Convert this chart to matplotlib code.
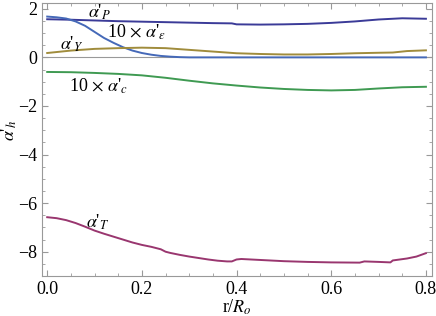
import numpy as np
import matplotlib.pyplot as plt
from matplotlib.ticker import MultipleLocator

plt.rcParams['font.family'] = ['Liberation Serif', 'DejaVu Serif']
plt.rcParams['mathtext.fontset'] = 'stix'

# alpha'_P
x_p = [0.0, 0.05, 0.1, 0.15, 0.2, 0.25, 0.3, 0.35, 0.39, 0.40, 0.45, 0.5, 0.55, 0.6, 0.65, 0.7, 0.75, 0.8]
y_p = [1.57, 1.55, 1.52, 1.49, 1.47, 1.45, 1.43, 1.41, 1.40, 1.36, 1.35, 1.36, 1.38, 1.42, 1.48, 1.56, 1.61, 1.59]

# 10 x alpha'_eps
x_e = [0.0, 0.02, 0.04, 0.06, 0.08, 0.10, 0.12, 0.14, 0.16, 0.18, 0.20, 0.22, 0.24, 0.26, 0.28, 0.30, 0.5, 0.8]
y_e = [1.68, 1.65, 1.60, 1.48, 1.30, 1.05, 0.80, 0.60, 0.42, 0.28, 0.18, 0.11, 0.06, 0.03, 0.01, 0.0, 0.0, 0.0]

# alpha'_Y
x_y = [0.0, 0.05, 0.1, 0.15, 0.2, 0.25, 0.3, 0.35, 0.4, 0.45, 0.5, 0.55, 0.6, 0.65, 0.7, 0.73, 0.76, 0.8]
y_y = [0.18, 0.28, 0.35, 0.38, 0.40, 0.38, 0.31, 0.24, 0.17, 0.14, 0.12, 0.12, 0.14, 0.17, 0.19, 0.20, 0.26, 0.29]

# 10 x alpha'_c
x_c = [0.0, 0.05, 0.1, 0.15, 0.2, 0.25, 0.3, 0.35, 0.4, 0.45, 0.5, 0.55, 0.6, 0.65, 0.7, 0.75, 0.8]
y_c = [-0.60, -0.61, -0.64, -0.68, -0.74, -0.84, -0.96, -1.07, -1.16, -1.24, -1.30, -1.34, -1.36, -1.34, -1.28, -1.23, -1.21]

# alpha'_T
x_t = [0.0, 0.02, 0.04, 0.06, 0.08, 0.10, 0.12, 0.14, 0.16, 0.18, 0.20, 0.22, 0.24, 0.25, 0.26, 0.28, 0.30,
       0.32, 0.34, 0.36, 0.38, 0.39, 0.40, 0.41, 0.45, 0.5, 0.55, 0.6, 0.66, 0.67, 0.70, 0.725, 0.73, 0.76, 0.78, 0.80]
y_t = [-6.58, -6.62, -6.70, -6.82, -6.97, -7.13, -7.26, -7.38, -7.50, -7.62, -7.72, -7.80, -7.90, -8.00, -8.05,
       -8.13, -8.20, -8.26, -8.32, -8.37, -8.40, -8.40, -8.32, -8.30, -8.34, -8.39, -8.42, -8.44, -8.45, -8.40,
       -8.42, -8.44, -8.36, -8.28, -8.20, -8.06]

fig = plt.figure(figsize=(4.36, 3.16), dpi=100)
ax = fig.add_axes([0.0963, 0.1266, 0.8947, 0.864])

ax.axhline(0, color='#999999', lw=0.8, zorder=1)
ax.plot(x_p, y_p, color='#3b3b98', lw=1.4)
ax.plot(x_e, y_e, color='#4569b8', lw=1.4)
ax.plot(x_y, y_y, color='#a08c3c', lw=1.4)
ax.plot(x_c, y_c, color='#3f9a52', lw=1.4)
ax.plot(x_t, y_t, color='#99366f', lw=1.4)

fs = 13
ax.text(0.11, 1.86, r"$\alpha$'$_P$", fontsize=fs, ha='center', va='center')
ax.text(0.19, 1.02, r"10 $\times$ $\alpha$'$_\epsilon$", fontsize=fs, ha='center', va='center')
ax.text(0.052, 0.52, r"$\alpha$'$_Y$", fontsize=fs, ha='center', va='center')
ax.text(0.108, -1.2, r"10 $\times$ $\alpha$'$_c$", fontsize=fs, ha='center', va='center')
ax.text(0.107, -6.8, r"$\alpha$'$_T$", fontsize=fs, ha='center', va='center')

ax.set_xlim(-0.011, 0.813)
ax.set_ylim(-9.0, 2.24)
ax.xaxis.set_major_locator(MultipleLocator(0.2))
ax.xaxis.set_minor_locator(MultipleLocator(0.05))
ax.yaxis.set_major_locator(MultipleLocator(2))
ax.yaxis.set_minor_locator(MultipleLocator(0.5))
ax.xaxis.set_major_formatter(plt.FuncFormatter(lambda v, p: f"{v:.1f}"))
ax.yaxis.set_major_formatter(plt.FuncFormatter(lambda v, p: f"{v:.0f}".replace('-', '\u2212')))
ax.tick_params(which='both', direction='in', top=True, right=True, color='#999999', labelsize=fs)
ax.tick_params(which='major', length=4, width=0.8)
ax.tick_params(which='minor', length=2, width=0.6)
for s in ax.spines.values():
    s.set_color('#999999')
    s.set_linewidth(0.8)

ax.set_xlabel(r"r/$R_o$", fontsize=fs, labelpad=0)
ax.set_ylabel(r"$\alpha$'$_h$", fontsize=fs)
ax.yaxis.set_label_coords(-0.06, 0.535)

fig.savefig('out.png', dpi=100)
